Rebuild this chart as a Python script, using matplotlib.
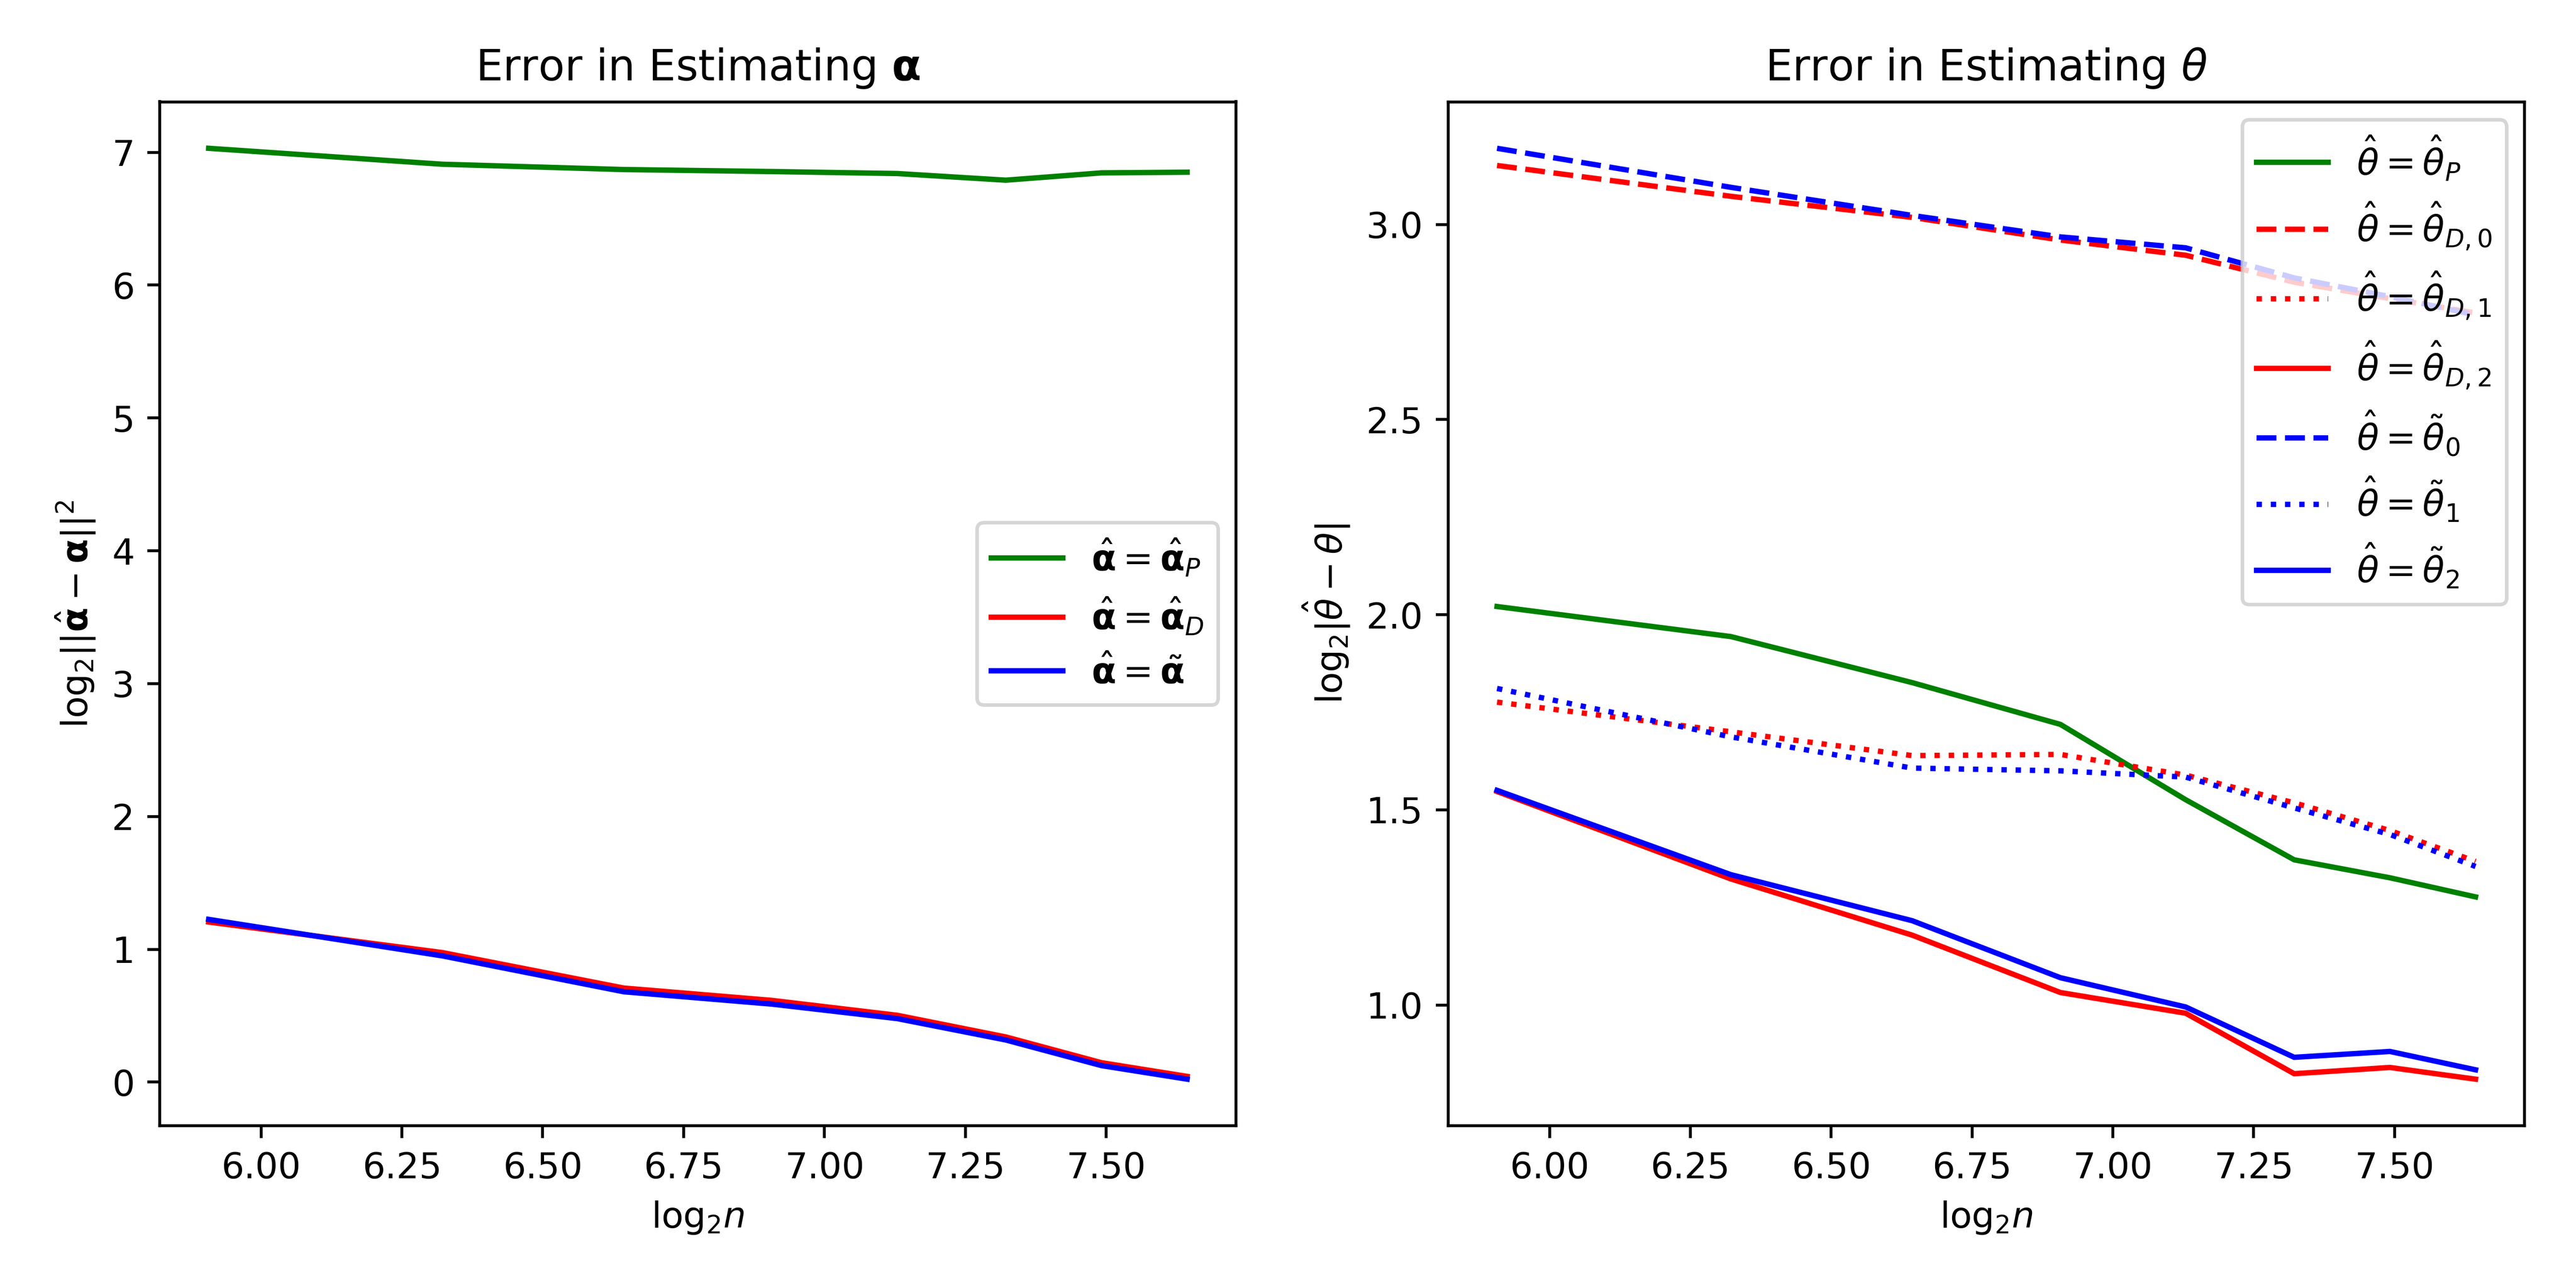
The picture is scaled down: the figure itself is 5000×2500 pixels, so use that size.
import numpy as np
from matplotlib import pyplot as plt

# sample sizes n = 60, 80, ..., 200
n_values = [60, 80, 100, 120, 140, 160, 180, 200]
log_n = np.log2(n_values)

# Error in estimating alpha
alpha_P = [7.03, 6.91, 6.87, 6.855, 6.84, 6.79, 6.845, 6.85]
alpha_D = [1.205, 0.975, 0.708, 0.615, 0.503, 0.34, 0.146, 0.043]
alpha_tilde = [1.225, 0.95, 0.68, 0.587, 0.478, 0.317, 0.124, 0.022]

# Error in estimating theta
theta_P = [2.021, 1.944, 1.826, 1.719, 1.526, 1.372, 1.326, 1.277]
theta_D0 = [3.151, 3.072, 3.018, 2.96, 2.921, 2.852, 2.81, 2.773]
theta_D1 = [1.776, 1.70, 1.639, 1.642, 1.589, 1.518, 1.447, 1.368]
theta_D2 = [1.547, 1.323, 1.179, 1.032, 0.979, 0.824, 0.84, 0.81]
theta_t0 = [3.195, 3.095, 3.023, 2.968, 2.94, 2.863, 2.815, 2.768]
theta_t1 = [1.811, 1.687, 1.607, 1.60, 1.584, 1.505, 1.437, 1.355]
theta_t2 = [1.55, 1.334, 1.216, 1.07, 0.995, 0.866, 0.881, 0.834]

fig, (ax1, ax2) = plt.subplots(1, 2, figsize=(10, 5), dpi=500)
plt.subplots_adjust(left=0.062, right=0.98, bottom=0.126, top=0.921, wspace=0.197)

xlab = r'$\mathrm{log}_2n$'

ax1.plot(log_n, alpha_P, c='green', label=r'$\hat{\mathbf{\alpha}} = \hat{\mathbf{\alpha}}_P$')
ax1.plot(log_n, alpha_D, c='red', label=r'$\hat{\mathbf{\alpha}} = \hat{\mathbf{\alpha}}_D$')
ax1.plot(log_n, alpha_tilde, c='blue', label=r'$\hat{\mathbf{\alpha}} = \tilde{\mathbf{\alpha}}$')
ax1.set_title(r'Error in Estimating $\mathbf{\alpha}$')
ax1.set_xlabel(xlab)
ax1.set_ylabel(r'$\mathrm{log}_2||\hat{\mathbf{\alpha}} - \mathbf{\alpha}||^2$')
ax1.legend(loc='center right')

ax2.plot(log_n, theta_P, c='green', label=r'$\hat{\theta} = \hat{\theta}_P$')
ax2.plot(log_n, theta_D0, c='red', ls='--', label=r'$\hat{\theta} = \hat{\theta}_{D,0}$')
ax2.plot(log_n, theta_D1, c='red', ls=':', label=r'$\hat{\theta} = \hat{\theta}_{D,1}$')
ax2.plot(log_n, theta_D2, c='red', label=r'$\hat{\theta} = \hat{\theta}_{D,2}$')
ax2.plot(log_n, theta_t0, c='blue', ls='--', label=r'$\hat{\theta} = \tilde{\theta}_0$')
ax2.plot(log_n, theta_t1, c='blue', ls=':', label=r'$\hat{\theta} = \tilde{\theta}_1$')
ax2.plot(log_n, theta_t2, c='blue', label=r'$\hat{\theta} = \tilde{\theta}_2$')
ax2.set_title(r'Error in Estimating $\theta$')
ax2.set_xlabel(xlab)
ax2.set_ylabel(r'$\mathrm{log}_2|\hat{\theta} - \theta|$')
ax2.legend(loc='upper right')

plt.savefig('out.png')
